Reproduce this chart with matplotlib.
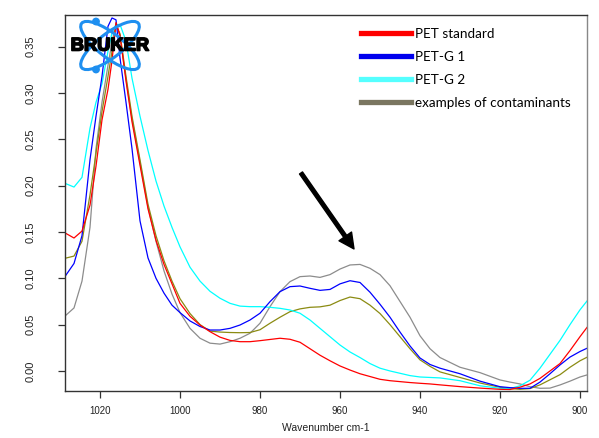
import matplotlib
matplotlib.use("Agg")
import matplotlib.pyplot as plt
import matplotlib.patheffects as pe
from matplotlib.patches import Ellipse, Circle
from matplotlib.lines import Line2D

# wavenumber grid (cm-1) and absorbance
wavenumber = [1028.75, 1026.5, 1024.5, 1022.5, 1021, 1019.5, 1018, 1017, 1016, 1015,
              1013.5, 1012, 1010, 1008, 1006, 1004, 1002, 1000, 997.5, 995,
              992.5, 990, 987.5, 985, 982.5, 980, 977.5, 975, 972.5, 970,
              967.5, 965, 962.5, 960, 957.5, 955, 952.5, 950, 947.5, 945,
              942.5, 940, 937.5, 935, 930, 925, 920, 917.5, 915, 912.5,
              910, 907.5, 905, 902.5, 900, 898.25]

pet_standard = [0.149, 0.1435, 0.151, 0.179, 0.221, 0.271, 0.304, 0.335, 0.376, 0.362,
                0.313, 0.269, 0.222, 0.175, 0.141, 0.115, 0.094, 0.073, 0.059, 0.0496,
                0.0424, 0.0365, 0.033, 0.0316, 0.0316, 0.0327, 0.034, 0.0353, 0.0342, 0.031,
                0.024, 0.017, 0.011, 0.0054, 0.001, -0.003, -0.006, -0.009, -0.0105, -0.0115,
                -0.0125, -0.0133, -0.014, -0.015, -0.0169, -0.0185, -0.0198, -0.020, -0.0175, -0.014,
                -0.008, 0.000, 0.008, 0.022, 0.037, 0.047]

petg_1 = [0.102, 0.116, 0.146, 0.228, 0.275, 0.318, 0.372, 0.381, 0.379, 0.338,
          0.290, 0.240, 0.162, 0.122, 0.100, 0.084, 0.071, 0.063, 0.054, 0.048,
          0.0442, 0.0442, 0.046, 0.0496, 0.055, 0.0623, 0.0748, 0.0856, 0.091, 0.0917,
          0.0892, 0.087, 0.088, 0.094, 0.0974, 0.0955, 0.085, 0.072, 0.058, 0.042,
          0.027, 0.014, 0.007, 0.003, -0.003, -0.011, -0.017, -0.018, -0.0187, -0.0187,
          -0.012, -0.003, 0.0065, 0.015, 0.021, 0.0245]

petg_2 = [0.2025, 0.1985, 0.209, 0.262, 0.290, 0.310, 0.345, 0.365, 0.374, 0.374,
          0.356, 0.316, 0.275, 0.238, 0.205, 0.178, 0.155, 0.134, 0.112, 0.097,
          0.086, 0.0785, 0.073, 0.070, 0.0694, 0.0694, 0.0687, 0.0676, 0.0658, 0.0623,
          0.055, 0.046, 0.037, 0.028, 0.0205, 0.0145, 0.008, 0.003, 0.000, -0.0025,
          -0.005, -0.0065, -0.007, -0.0075, -0.0105, -0.016, -0.0187, -0.019, -0.016, -0.010,
          0.003, 0.018, 0.033, 0.050, 0.066, 0.0755]

olive = [0.1216, 0.124, 0.140, 0.190, 0.235, 0.280, 0.318, 0.345, 0.373, 0.364,
         0.318, 0.275, 0.228, 0.180, 0.146, 0.119, 0.097, 0.078, 0.062, 0.050,
         0.043, 0.042, 0.0415, 0.0413, 0.0415, 0.0445, 0.0515, 0.058, 0.064, 0.067,
         0.0687, 0.0692, 0.071, 0.076, 0.0798, 0.078, 0.071, 0.062, 0.050, 0.037,
         0.024, 0.012, 0.005, -0.001, -0.007, -0.013, -0.0176, -0.019, -0.0198, -0.019,
         -0.015, -0.0095, -0.004, 0.004, 0.011, 0.0148]

gray = [0.0593, 0.068, 0.097, 0.155, 0.240, 0.290, 0.330, 0.355, 0.375, 0.362,
        0.315, 0.272, 0.225, 0.177, 0.140, 0.108, 0.083, 0.063, 0.046, 0.0353,
        0.030, 0.029, 0.0316, 0.0353, 0.0407, 0.0515, 0.0694, 0.0856, 0.0964, 0.1018,
        0.1025, 0.101, 0.104, 0.110, 0.1144, 0.115, 0.1108, 0.104, 0.092, 0.075,
        0.058, 0.038, 0.024, 0.0145, 0.004, -0.0018, -0.0097, -0.012, -0.014, -0.017,
        -0.0187, -0.0185, -0.0151, -0.011, -0.0065, -0.0043]

legend_labels = ["PET standard", "PET-G 1", "PET-G 2", "examples of contaminants"]
legend_colors = ["#ff0000", "#0000ee", "#55ffff", "#7a7660"]

W, H = 599, 438
fig = plt.figure(figsize=(W / 100, H / 100), dpi=100)
ax = fig.add_axes([65 / W, 1 - 390.7 / H, (587 - 65) / W, (390.7 - 15) / H])

lw = 0.9
ax.plot(wavenumber, gray, color="#8c8c8c", lw=lw)
ax.plot(wavenumber, olive, color="#8b8b12", lw=lw)
ax.plot(wavenumber, petg_2, color="#00ffff", lw=lw)
ax.plot(wavenumber, petg_1, color="#0000ff", lw=lw)
ax.plot(wavenumber, pet_standard, color="#ff0000", lw=lw)

ax.set_xlim(1028.75, 898.25)
ax.set_ylim(-0.0213, 0.3842)
ax.set_xticks([1020, 1000, 980, 960, 940, 920, 900])
ax.set_yticks([0.00, 0.05, 0.10, 0.15, 0.20, 0.25, 0.30, 0.35])
ax.set_yticklabels(["0.00", "0.05", "0.10", "0.15", "0.20", "0.25", "0.30", "0.35"],
                   rotation=90, va="center")
ax.tick_params(axis="x", length=5, width=0.9, color="#333333", pad=6,
               labelsize=7, labelcolor="#222222")
ax.tick_params(axis="y", length=5, width=0.9, color="#333333", pad=16,
               labelsize=8, labelcolor="#222222")
for lab in ax.get_xticklabels() + ax.get_yticklabels():
    lab.set_family("Liberation Sans")
for side in ["left", "bottom", "top"]:
    ax.spines[side].set_color("#333333")
    ax.spines[side].set_linewidth(1.0)
ax.spines["right"].set_color("#888888")
ax.spines["right"].set_linewidth(1.0)

ax.set_xlabel("Wavenumber cm-1", family="Liberation Sans", fontsize=7.5,
              color="#222222", labelpad=5)

# arrow pointing at the contaminant band
ax.annotate("", xy=(956.5, 0.1317), xytext=(969.75, 0.2137),
            arrowprops=dict(facecolor="black", edgecolor="black", width=2.6,
                            headwidth=11, headlength=11, shrink=0))

# legend
handles = [Line2D([], [], color=c, lw=3.8) for c in legend_colors]
fig.legend(handles, legend_labels, loc="upper left",
           bbox_to_anchor=(354 / W, 1 - 21 / H), frameon=False, borderpad=0,
           handlelength=3.7, handletextpad=0.3, labelspacing=0.82,
           prop={"family": "Lato", "size": 9.7})

# Bruker logo
lx0, ly0, lx1, ly1 = 62, 12, 160, 80
lax = fig.add_axes([lx0 / W, 1 - ly1 / H, (lx1 - lx0) / W, (ly1 - ly0) / H])
lax.set_xlim(lx0, lx1)
lax.set_ylim(ly1, ly0)
lax.axis("off")
lax.patch.set_alpha(0)
logo_blue = "#1e8ff0"
for ang in (38, -38):
    lax.add_patch(Ellipse((110, 45.5), 72, 24, angle=ang, fill=False,
                          edgecolor=logo_blue, lw=2.2))
lax.add_patch(Circle((96, 21.5), 3.2, color=logo_blue))
lax.add_patch(Circle((96, 69.5), 3.2, color=logo_blue))
lax.text(110, 46, "BRUKER", ha="center", va="center", fontsize=13.2,
         fontweight="bold", family="Liberation Sans", color="black",
         path_effects=[pe.withStroke(linewidth=1.2, foreground="black")])

plt.savefig("out.png", dpi=100)
